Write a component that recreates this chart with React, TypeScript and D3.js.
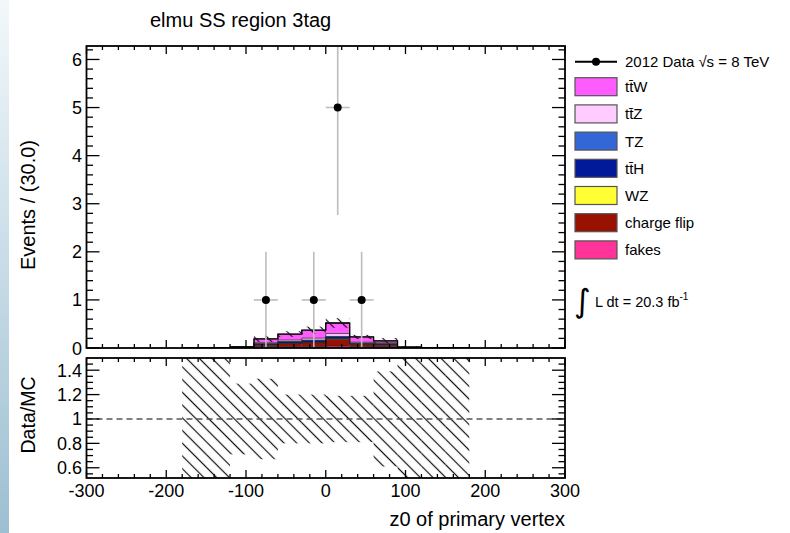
import React from 'react';
import * as d3 from 'd3';

const W = 790;
const H = 533;

// binning: 30 units per bin, only bins that carry MC are listed
const binCenters = [-165, -135, -105, -75, -45, -15, 15, 45, 75, 105, 135, 165];
const binHalf = 15;

// stack components, bottom to top
const fakes      = [0, 0.005, 0.01, 0.03, 0.03, 0.03, 0.04, 0.03, 0.03, 0.005, 0, 0];
const chargeFlip = [0, 0, 0.005, 0.03, 0.06, 0.08, 0.14, 0.04, 0.03, 0.005, 0, 0];
const wz         = [0, 0, 0, 0.005, 0.005, 0.005, 0.01, 0.005, 0.005, 0, 0, 0];
const ttH        = [0, 0, 0.005, 0.02, 0.03, 0.04, 0.04, 0.02, 0.02, 0.005, 0, 0];
const tz         = [0, 0, 0, 0.005, 0.01, 0.01, 0.01, 0.005, 0.005, 0, 0, 0];
const ttZ        = [0, 0, 0, 0.02, 0.03, 0.04, 0.06, 0.02, 0.02, 0.005, 0, 0];
const ttW        = [0, 0, 0.005, 0.08, 0.125, 0.165, 0.22, 0.11, 0.04, 0, 0, 0];

// relative MC uncertainty per bin (hatched band)
const mcRelErr = [1, 1, 0.29, 0.33, 0.2, 0.2, 0.19, 0.19, 0.39, 1, 1, 1];

const dataX = [-75, -15, 15, 45];
const dataY = [1, 1, 5, 1];

const xTicks = [-300, -200, -100, 0, 100, 200, 300];
const yTicks = [0, 1, 2, 3, 4, 5, 6];
const ratioTicks = [0.6, 0.8, 1, 1.2, 1.4];

const stack = [
  { name: 'fakes', label: 'fakes', color: '#ff3399', values: fakes },
  { name: 'cf', label: 'charge flip', color: '#991100', values: chargeFlip },
  { name: 'wz', label: 'WZ', color: '#ffff33', values: wz },
  { name: 'tth', label: 'tt\u0304H', color: '#001a99', values: ttH },
  { name: 'tz', label: 'TZ', color: '#3366d6', values: tz },
  { name: 'ttz', label: 'tt\u0304Z', color: '#ffccff', values: ttZ },
  { name: 'ttw', label: 'tt\u0304W', color: '#ff5cff', values: ttW },
];

const font = '"Liberation Sans", Arial, Helvetica, sans-serif';

const frame = { left: 86.5, right: 565 };
const mainTop = 46, mainBottom = 348;
const ratioTop = 358, ratioBottom = 478;

export default function App() {
  const x = d3.scaleLinear().domain([-300, 300]).range([frame.left, frame.right]);
  const y = d3.scaleLinear().domain([0, 6.28]).range([mainBottom, mainTop]);
  const yr = d3.scaleLinear().domain([0.516, 1.5]).range([ratioBottom, ratioTop]);

  // cumulative stack
  const cum: number[][] = [];
  let running = binCenters.map(() => 0);
  stack.forEach((s) => {
    const lo = running.slice();
    running = running.map((v, i) => v + s.values[i]);
    cum.push(lo);
  });
  const totals = running;

  const stepPath = (vals: number[]) => {
    let d = '';
    binCenters.forEach((c, i) => {
      const x0 = x(c - binHalf), x1 = x(c + binHalf), yy = y(vals[i]);
      d += (i === 0 ? `M${x0},${y(0)}L${x0},${yy}` : `L${x0},${yy}`) + `L${x1},${yy}`;
    });
    d += `L${x(binCenters[binCenters.length - 1] + binHalf)},${y(0)}`;
    return d;
  };

  const xMinor = d3.range(-300, 301, 20);
  const yMinor = d3.range(0, 6.3, 0.2);
  const rMinor = d3.range(0.55, 1.5, 0.05);

  const legendRows = stack.slice().reverse();

  return (
    <svg width={W} height={H} style={{ position: 'absolute', left: 0, top: 0, background: '#fff' }} fontFamily={font}>
      <defs>
        <linearGradient id="edge" x1="0" y1="0" x2="0" y2="1">
          <stop offset="0%" stopColor="#f2f8fa" />
          <stop offset="100%" stopColor="#9dbfd2" />
        </linearGradient>
        <pattern id="hatch" patternUnits="userSpaceOnUse" width="9" height="9" patternTransform="rotate(45)">
          <line x1="0" y1="4.5" x2="9" y2="4.5" stroke="#111" strokeWidth="1.2" />
        </pattern>
        <clipPath id="mainClip">
          <rect x={frame.left} y={mainTop} width={frame.right - frame.left} height={mainBottom - mainTop} />
        </clipPath>
        <clipPath id="ratioClip">
          <rect x={frame.left} y={ratioTop} width={frame.right - frame.left} height={ratioBottom - ratioTop} />
        </clipPath>
      </defs>
      <rect x={0} y={0} width={9} height={H} fill="url(#edge)" />

      <text x={150} y={27} fontSize={20}>elmu SS region 3tag</text>

      {/* main panel */}
      <g clipPath="url(#mainClip)">
        {stack.map((s, k) => (
          <g key={s.name}>
            {binCenters.map((c, i) => s.values[i] > 0 && (
              <rect key={i} x={x(c - binHalf)} width={x(c + binHalf) - x(c - binHalf)}
                y={y(cum[k][i] + s.values[i])} height={y(cum[k][i]) - y(cum[k][i] + s.values[i])}
                fill={s.color} />
            ))}
          </g>
        ))}
        {stack.map((s, k) => (
          <path key={s.name} d={stepPath(cum[k].map((v, i) => v + s.values[i]))} fill="none"
            stroke="#222" strokeWidth={0.7} />
        ))}
        <path d={stepPath(totals)} fill="none" stroke="#000" strokeWidth={1.3} />
        {binCenters.map((c, i) => totals[i] > 0 && (
          <rect key={i} x={x(c - binHalf)} width={x(c + binHalf) - x(c - binHalf)}
            y={y(totals[i] * (1 + mcRelErr[i]))}
            height={y(totals[i] * (1 - mcRelErr[i])) - y(totals[i] * (1 + mcRelErr[i]))}
            fill="url(#hatch)" />
        ))}
        {dataX.map((dx, i) => {
          const e = Math.sqrt(dataY[i]);
          return (
            <g key={i}>
              <line x1={x(dx)} x2={x(dx)} y1={y(Math.max(0, dataY[i] - e))} y2={y(dataY[i] + e)} stroke="#bdbdbd" strokeWidth={1.6} />
              <line x1={x(dx - binHalf)} x2={x(dx + binHalf)} y1={y(dataY[i])} y2={y(dataY[i])} stroke="#bdbdbd" strokeWidth={1.6} />
              <circle cx={x(dx)} cy={y(dataY[i])} r={4} fill="#000" />
            </g>
          );
        })}
      </g>
      <rect x={frame.left} y={mainTop} width={frame.right - frame.left} height={mainBottom - mainTop} fill="none" stroke="#000" strokeWidth={1.8} />
      {/* main ticks */}
      {xMinor.map((v) => {
        const major = xTicks.includes(v);
        const len = major ? 8 : 4;
        return (
          <g key={v} stroke="#000" strokeWidth={1.3}>
            <line x1={x(v)} x2={x(v)} y1={mainBottom} y2={mainBottom - len} />
            <line x1={x(v)} x2={x(v)} y1={mainTop} y2={mainTop + len} />
          </g>
        );
      })}
      {yMinor.map((v) => {
        const major = Math.abs(v - Math.round(v)) < 1e-6;
        const len = major ? 13 : 6.5;
        return (
          <g key={v} stroke="#000" strokeWidth={1.3}>
            <line x1={frame.left} x2={frame.left + len} y1={y(v)} y2={y(v)} />
            <line x1={frame.right} x2={frame.right - len} y1={y(v)} y2={y(v)} />
          </g>
        );
      })}
      {yTicks.map((v) => (
        <text key={v} x={82} y={y(v) + 6.5} fontSize={18} textAnchor="end">{v}</text>
      ))}
      <text transform={`translate(35,205) rotate(-90)`} fontSize={20} textAnchor="middle">Events / (30.0)</text>

      {/* ratio panel */}
      <g clipPath="url(#ratioClip)">
        {binCenters.map((c, i) => (
          <rect key={i} x={x(c - binHalf)} width={x(c + binHalf) - x(c - binHalf)}
            y={yr(1 + mcRelErr[i])} height={yr(1 - mcRelErr[i]) - yr(1 + mcRelErr[i])}
            fill="url(#hatch)" />
        ))}
        <line x1={frame.left} x2={frame.right} y1={yr(1)} y2={yr(1)} stroke="#555" strokeWidth={1.5} strokeDasharray="6,4" />
      </g>
      <rect x={frame.left} y={ratioTop} width={frame.right - frame.left} height={ratioBottom - ratioTop} fill="none" stroke="#000" strokeWidth={1.8} />
      {xMinor.map((v) => {
        const major = xTicks.includes(v);
        const len = major ? 8 : 4;
        return (
          <g key={v} stroke="#000" strokeWidth={1.3}>
            <line x1={x(v)} x2={x(v)} y1={ratioBottom} y2={ratioBottom - len} />
            <line x1={x(v)} x2={x(v)} y1={ratioTop} y2={ratioTop + len} />
          </g>
        );
      })}
      {rMinor.map((v) => {
        const major = ratioTicks.some((t) => Math.abs(t - v) < 1e-6);
        const len = major ? 13 : 6.5;
        return (
          <g key={v} stroke="#000" strokeWidth={1.3}>
            <line x1={frame.left} x2={frame.left + len} y1={yr(v)} y2={yr(v)} />
            <line x1={frame.right} x2={frame.right - len} y1={yr(v)} y2={yr(v)} />
          </g>
        );
      })}
      {ratioTicks.map((v) => (
        <text key={v} x={82} y={yr(v) + 6.5} fontSize={18} textAnchor="end">{v}</text>
      ))}
      {xTicks.map((v) => (
        <text key={v} x={x(v)} y={497} fontSize={18} textAnchor="middle">{v}</text>
      ))}
      <text transform={`translate(35,415) rotate(-90)`} fontSize={19.5} textAnchor="middle">Data/MC</text>
      <text x={frame.right} y={526} fontSize={20} textAnchor="end">z0 of primary vertex</text>

      {/* legend */}
      <line x1={575} x2={617} y1={61.7} y2={61.7} stroke="#000" strokeWidth={2} />
      <circle cx={596} cy={61.7} r={4} fill="#000" />
      <text x={625} y={67} fontSize={15}>2012 Data √s = 8 TeV</text>
      {legendRows.map((s, i) => {
        const cy = 86.7 + i * 27.2;
        return (
          <g key={s.name}>
            <rect x={575} y={cy - 9} width={42} height={18} fill={s.color} stroke="#555" strokeWidth={1.2} />
            <text x={625} y={cy + 5.5} fontSize={15}>{s.label}</text>
          </g>
        );
      })}
      <text x={574} y={312} fontSize={32} fontFamily='"DejaVu Sans", sans-serif'>∫</text>
      <text x={595} y={307} fontSize={14.5}>L dt = 20.3 fb<tspan dy={-7} fontSize={10}>-1</tspan></text>
    </svg>
  );
}
